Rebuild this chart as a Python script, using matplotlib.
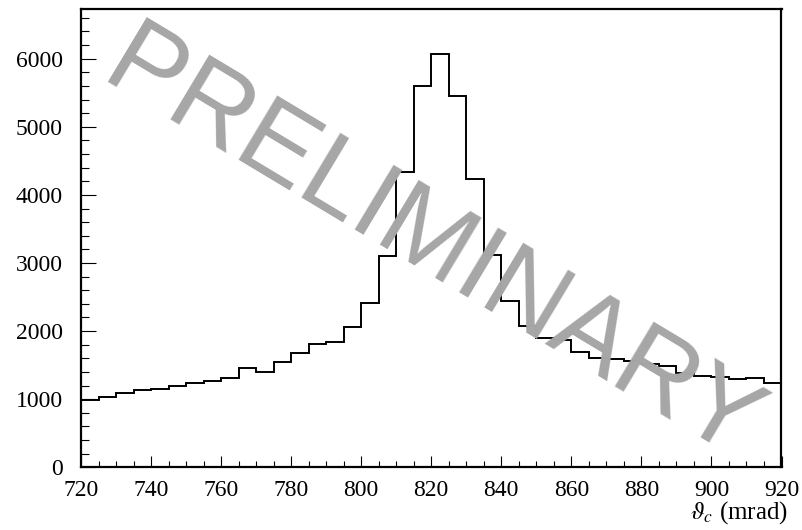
import matplotlib
matplotlib.use("Agg")
import matplotlib.pyplot as plt
import numpy as np
from matplotlib.ticker import MultipleLocator

# Cherenkov angle histogram, 5 mrad bins from 720 to 920 mrad
bin_low = 720
bin_width = 5
counts = [
    995, 1038, 1087, 1135, 1145, 1199, 1233, 1263, 1307, 1459,
    1400, 1547, 1674, 1811, 1836, 2061, 2408, 3102, 4332, 5605,
    6063, 5449, 4239, 3117, 2447, 2075, 1894, 1870, 1698, 1610,
    1586, 1561, 1522, 1488, 1380, 1346, 1331, 1292, 1317, 1238,
]
x_ticks = [720, 740, 760, 780, 800, 820, 840, 860, 880, 900, 920]
y_ticks = [0, 1000, 2000, 3000, 4000, 5000, 6000]
x_label = r"$\vartheta_c$ (mrad)"
watermark = "PRELIMINARY"

plt.rcParams["mathtext.fontset"] = "stix"

W, H = 803, 530
fig = plt.figure(figsize=(W / 100, H / 100), dpi=100)
left, right, top, bottom = 81, 781.5, 9, 467.3
ax = fig.add_axes([left / W, 1 - bottom / H, (right - left) / W, (bottom - top) / H])

edges = bin_low + bin_width * np.arange(len(counts) + 1)
ax.stairs(counts, edges, baseline=None, color="black", linewidth=1.4)

ax.set_xlim(720, 920)
ax.set_ylim(0, 6730)
ax.set_xticks(x_ticks)
ax.set_yticks(y_ticks)
ax.xaxis.set_minor_locator(MultipleLocator(5))
ax.yaxis.set_minor_locator(MultipleLocator(200))

for s in ax.spines.values():
    s.set_linewidth(1.6)

ax.tick_params(axis="both", which="both", direction="in", top=False, right=False,
               labelfontfamily="Liberation Serif", labelsize=17)
ax.tick_params(axis="x", which="major", length=8, width=0.8, pad=9)
ax.tick_params(axis="x", which="minor", length=4, width=0.8)
ax.tick_params(axis="y", which="major", length=11, width=0.8, pad=13)
ax.tick_params(axis="y", which="minor", length=5.5, width=0.8)

fig.text(788 / W, 1 - 519 / H, x_label, ha="right", va="baseline", fontsize=18,
         family="Liberation Serif")

fig.text(431 / W, 1 - 249 / H, watermark, ha="center", va="center",
         rotation=-31, rotation_mode="anchor", fontsize=79,
         family="Liberation Sans", color="#a6a6a6", zorder=5)

fig.savefig("out.png", dpi=100)
